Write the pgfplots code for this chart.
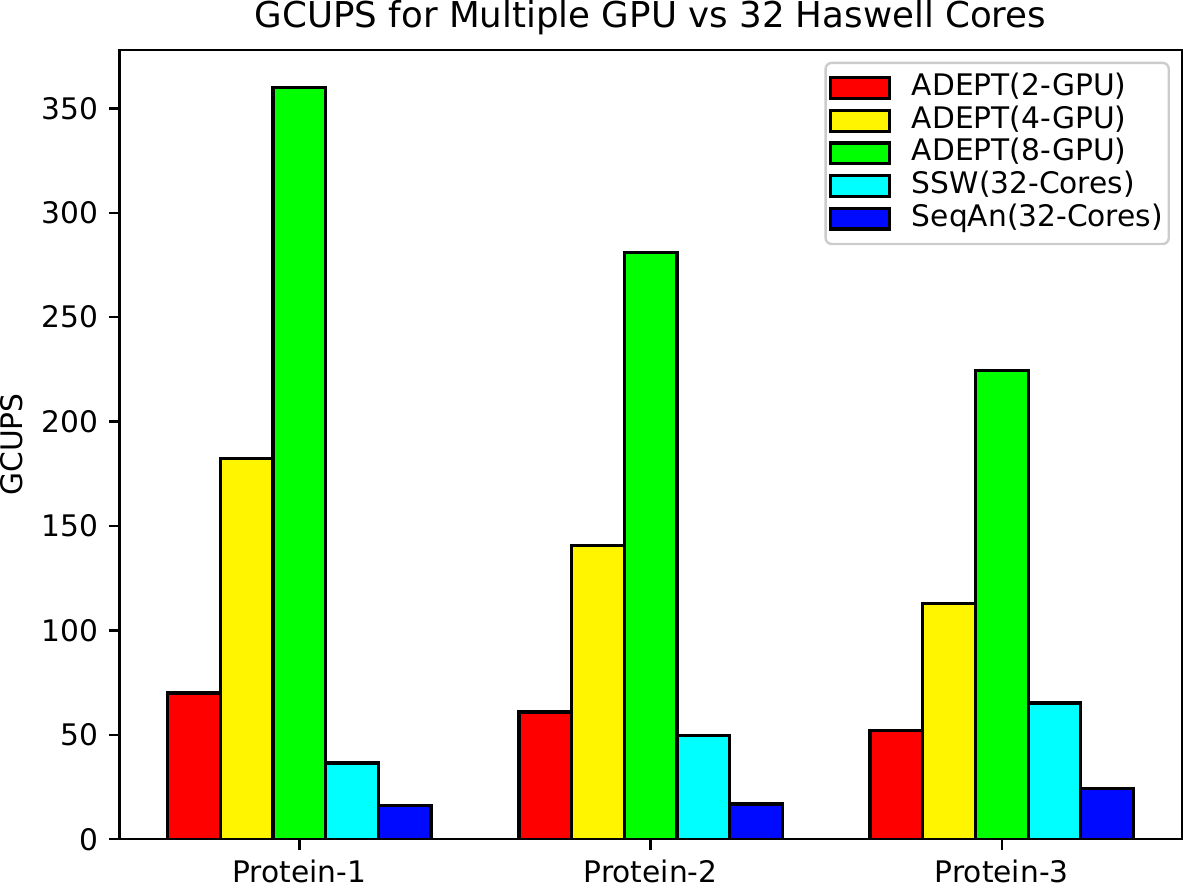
\documentclass[border=0pt]{standalone}
\usepackage{fontspec}
\setmainfont{DejaVu Sans}
\usepackage{pgfplots}
\pgfplotsset{compat=1.18}

\definecolor{barred}{RGB}{255,0,0}
\definecolor{baryellow}{RGB}{255,245,0}
\definecolor{bargreen}{RGB}{0,255,0}
\definecolor{barcyan}{RGB}{0,255,255}
\definecolor{barblue}{RGB}{0,10,255}

\pgfplotsset{
  gbar/.style={ybar, bar width=0.15, draw=black, line width=1.1pt,
    legend image code/.code={\draw[##1, sharp corners] (0pt,-3.5pt) rectangle (20pt,3.5pt);}},
}

\begin{document}
\begin{tikzpicture}
\begin{axis}[
    scale only axis,
    width=358pt,
    height=266pt,
    xmin=-0.5125, xmax=2.5125,
    ymin=0, ymax=378,
    xtick={0,1,2},
    xticklabels={Protein-1,Protein-2,Protein-3},
    ytick={0,50,...,350},
    tick pos=left,
    tick align=outside,
    major tick length=3.5pt,
    every tick/.style={black, line width=0.8pt},
    axis line style={line width=0.8pt},
    /pgf/number format/assume math mode=true,
    ticklabel style={font=\fontsize{10}{12}\selectfont},
    title={GCUPS for Multiple GPU vs 32 Haswell Cores},
    title style={font=\fontsize{12}{14}\selectfont, inner sep=0pt, yshift=-1pt},
    ylabel={GCUPS},
    ylabel style={inner sep=0pt},
    ylabel shift=3pt,
    label style={font=\fontsize{10}{12}\selectfont},
    legend cell align=left,
    legend style={at={(1,1)}, anchor=north east, xshift=-4pt, yshift=-4pt,
      draw=black!20, line width=0.8pt, rounded corners=2pt,
      font=\fontsize{10}{12}\selectfont,
      inner xsep=1pt, inner ysep=3pt, row sep=0pt,
      /tikz/every odd column/.append style={column sep=6pt},
      nodes={inner sep=1pt, text height=7pt, text depth=2pt}},
]
% ADEPT 2 GPU
\addplot[gbar, bar shift=-0.3, fill=barred] coordinates {(0,70) (1,61) (2,52)};
% ADEPT 4 GPU
\addplot[gbar, bar shift=-0.15, fill=baryellow] coordinates {(0,182.3) (1,140.8) (2,113)};
% ADEPT 8 GPU
\addplot[gbar, bar shift=0, fill=bargreen] coordinates {(0,360) (1,281) (2,224.5)};
% SSW
\addplot[gbar, bar shift=0.15, fill=barcyan] coordinates {(0,36.5) (1,49.8) (2,65.3)};
% SeqAn
\addplot[gbar, bar shift=0.3, fill=barblue] coordinates {(0,16.1) (1,16.9) (2,24.2)};
\legend{ADEPT(2-GPU), ADEPT(4-GPU), ADEPT(8-GPU), SSW(32-Cores), SeqAn(32-Cores)}
\end{axis}
\end{tikzpicture}
\end{document}
